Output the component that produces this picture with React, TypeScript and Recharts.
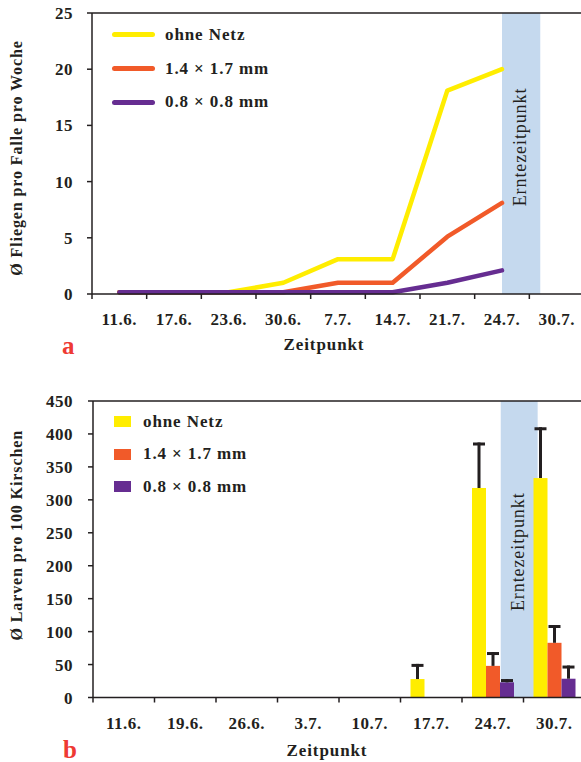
import React from "react";
import {
  Bar,
  BarChart,
  Legend,
  Line,
  LineChart,
  ReferenceArea,
  ReferenceLine,
  XAxis,
  YAxis,
} from "recharts";

const INK = "#231f20";
const SERIF = '"Liberation Serif", "Times New Roman", serif';
const YELLOW = "#ffed00";
const ORANGE = "#f15a29";
const PURPLE = "#662d91";
const BAND = "#c5d9ee";
const RED = "#ee3a33";

const seriesNames = ["ohne Netz", "1.4 × 1.7 mm", "0.8 × 0.8 mm"];

// a: Fliegen pro Falle und Woche
const datesA = ["11.6.", "17.6.", "23.6.", "30.6.", "7.7.", "14.7.", "21.7.", "24.7.", "30.7."];
const fliesOhneNetz = [0.15, 0.15, 0.15, 1, 3.1, 3.1, 18.1, 20, null];
const flies14x17 = [0.15, 0.15, 0.15, 0.15, 1, 1, 5.1, 8.1, null];
const flies08x08 = [0.15, 0.15, 0.15, 0.15, 0.15, 0.15, 1, 2.1, null];
const ticksA = [0, 5, 10, 15, 20, 25];
// harvest window, in category units (category i spans i..i+1)
const harvestA = [7.5, 8.2];

// b: Larven pro 100 Kirschen
const datesB = ["11.6.", "19.6.", "26.6.", "3.7.", "10.7.", "17.7.", "24.7.", "30.7."];
const larvaeOhneNetz = [0, 0, 0, 0, 0, 28, 318, 333];
const larvae14x17 = [0, 0, 0, 0, 0, 0, 48, 83];
const larvae08x08 = [0, 0, 0, 0, 0, 0, 23, 28.5];
const errOhneNetz = [0, 0, 0, 0, 0, 23, 69, 77];
const err14x17 = [0, 0, 0, 0, 0, 0, 21, 27];
const err08x08 = [0, 0, 0, 0, 0, 0, 5, 20];
const ticksB = [0, 50, 100, 150, 200, 250, 300, 350, 400, 450];
const harvestB = [6.63, 7.23];

// each category sits in the middle of its slot on a numeric axis
const flyData = datesA.map((date, i) => ({
  x: i + 0.5,
  date,
  ohne: fliesOhneNetz[i],
  grob: flies14x17[i],
  fein: flies08x08[i],
}));

const larvaeData = datesB.map((date, i) => ({
  x: i + 0.5,
  date,
  ohne: larvaeOhneNetz[i],
  grob: larvae14x17[i],
  fein: larvae08x08[i],
  errOhne: errOhneNetz[i],
  errGrob: err14x17[i],
  errFein: err08x08[i],
}));

const slotsA = datesA.map((_, i) => i).concat(datesA.length);
const slotsB = datesB.map((_, i) => i).concat(datesB.length);

const CHART_W = 600;
const A = { left: 92, right: 16, top: 13, h: 380 };
const B = { left: 93, right: 15, top: 21, h: 382 };
const stepA = (CHART_W - A.left - A.right) / datesA.length;
const stepB = (CHART_W - B.left - B.right) / datesB.length;

const tickFont = {
  fontFamily: SERIF,
  fontWeight: 700,
  fontSize: 17,
  letterSpacing: 0.5,
  fill: INK,
};

/** Tick mark on each slot boundary, date label centred in the slot to its right. */
function SlotTick({ x, y, index, step, labels }: any) {
  return (
    <g>
      <line x1={x} x2={x} y1={y} y2={y + 5} stroke={INK} strokeWidth={1.5} />
      {index < labels.length && (
        <text x={x + step / 2} y={y + 31} textAnchor="middle" {...tickFont}>
          {labels[index]}
        </text>
      )}
    </g>
  );
}

function YTitle({ viewBox, text, dy }: any) {
  const cy = viewBox.y + viewBox.height / 2 + dy;
  return (
    <text
      transform={`translate(22, ${cy}) rotate(-90)`}
      textAnchor="middle"
      fontFamily={SERIF}
      fontWeight={700}
      fontSize={16}
      letterSpacing={0.9}
      fill={INK}
    >
      {text}
    </text>
  );
}

function XTitle({ viewBox, dx, dy, letter, letterDy }: any) {
  return (
    <g>
      <text
        x={viewBox.x + dx}
        y={viewBox.y + dy}
        textAnchor="middle"
        fontFamily={SERIF}
        fontWeight={700}
        fontSize={17}
        letterSpacing={0.9}
        fill={INK}
      >
        Zeitpunkt
      </text>
      <text
        x={viewBox.x - 30}
        y={viewBox.y + letterDy}
        fontFamily={SERIF}
        fontWeight={700}
        fontSize={25}
        fill={RED}
      >
        {letter}
      </text>
    </g>
  );
}

function BandLabel({ viewBox, dy }: any) {
  const cx = viewBox.x + viewBox.width / 2 + 5;
  const cy = viewBox.y + viewBox.height / 2 + dy;
  return (
    <text
      transform={`translate(${cx}, ${cy}) rotate(-90)`}
      textAnchor="middle"
      fontFamily={SERIF}
      fontSize={18}
      letterSpacing={0.9}
      fill={INK}
    >
      Erntezeitpunkt
    </text>
  );
}

function sortByName(payload: any[] = []) {
  return [...payload].sort(
    (a, b) => seriesNames.indexOf(a.value) - seriesNames.indexOf(b.value)
  );
}

const legendText = {
  fontFamily: SERIF,
  fontWeight: 700,
  fontSize: 17,
  letterSpacing: 0.9,
  color: INK,
  whiteSpace: "nowrap" as const,
};

function LineLegend({ payload }: any) {
  return (
    <div>
      {sortByName(payload).map((p) => (
        <div key={p.value} style={{ display: "flex", alignItems: "center", height: 33.8 }}>
          <span
            style={{ width: 43, height: 5, borderRadius: 3, background: p.color, display: "inline-block" }}
          />
          <span style={{ ...legendText, marginLeft: 10 }}>{p.value}</span>
        </div>
      ))}
    </div>
  );
}

function BarLegend({ payload }: any) {
  return (
    <div>
      {sortByName(payload).map((p) => (
        <div key={p.value} style={{ display: "flex", alignItems: "center", height: 32.5 }}>
          <span style={{ width: 17, height: 11, background: p.color, display: "inline-block" }} />
          <span style={{ ...legendText, marginLeft: 12 }}>{p.value}</span>
        </div>
      ))}
    </div>
  );
}

/** Bar with an upper-only error whisker, scaled from the bar's own height. */
function barWithError(valueKey: string, errKey: string) {
  return (props: any) => {
    const { x, y, width, height, fill, payload } = props;
    const v = payload[valueKey];
    const err = payload[errKey];
    if (!v || !height || height <= 0) return <g />;
    const top = y - (err * height) / v;
    const cx = x + width / 2;
    return (
      <g>
        <rect x={x} y={y} width={width} height={height} fill={fill} />
        {err > 0 && (
          <g stroke={INK} strokeWidth={3}>
            <line x1={cx} x2={cx} y1={y} y2={top} />
            <line x1={cx - 6} x2={cx + 6} y1={top + 1.5} y2={top + 1.5} />
          </g>
        )}
      </g>
    );
  };
}

function FliesChart() {
  return (
    <LineChart
      width={CHART_W}
      height={A.h}
      data={flyData}
      margin={{ top: A.top, right: A.right, bottom: 26, left: 0 }}
    >
      <ReferenceArea
        x1={harvestA[0]}
        x2={harvestA[1]}
        y1={0}
        y2={25}
        fill={BAND}
        fillOpacity={1}
        stroke="none"
        label={<BandLabel dy={-6.5} />}
      />
      <XAxis
        dataKey="x"
        type="number"
        domain={[0, datesA.length]}
        ticks={slotsA}
        tickCount={slotsA.length}
        interval={0}
        allowDataOverflow
        height={60}
        tickLine={false}
        tickSize={0}
        tickMargin={0}
        axisLine={{ stroke: INK, strokeWidth: 1.5 }}
        tick={(p: any) => <SlotTick {...p} step={stepA} labels={datesA} />}
        label={<XTitle dx={232} dy={56} letter="a" letterDy={60} />}
      />
      <YAxis
        width={A.left}
        domain={[0, 25]}
        ticks={ticksA}
        interval={0}
        tickSize={5}
        tickMargin={14}
        tickLine={{ stroke: INK, strokeWidth: 1.5 }}
        axisLine={{ stroke: INK, strokeWidth: 1.5 }}
        tick={tickFont}
        label={<YTitle text="Ø Fliegen pro Falle pro Woche" dy={4.5} />}
      />
      <ReferenceLine y={25} stroke={INK} strokeWidth={1.5} />
      <Line
        dataKey="ohne"
        name={seriesNames[0]}
        stroke={YELLOW}
        strokeWidth={4.5}
        strokeLinecap="round"
        strokeLinejoin="round"
        dot={false}
        activeDot={false}
        isAnimationActive={false}
      />
      <Line
        dataKey="grob"
        name={seriesNames[1]}
        stroke={ORANGE}
        strokeWidth={4.5}
        strokeLinecap="round"
        strokeLinejoin="round"
        dot={false}
        activeDot={false}
        isAnimationActive={false}
      />
      <Line
        dataKey="fein"
        name={seriesNames[2]}
        stroke={PURPLE}
        strokeWidth={4.5}
        strokeLinecap="round"
        strokeLinejoin="round"
        dot={false}
        activeDot={false}
        isAnimationActive={false}
      />
      <Legend
        layout="vertical"
        align="center"
        verticalAlign="middle"
        content={<LineLegend />}
        wrapperStyle={{ left: 112, top: 18, width: "auto", height: "auto" }}
      />
    </LineChart>
  );
}

function LarvaeChart() {
  return (
    <BarChart
      width={CHART_W}
      height={B.h}
      data={larvaeData}
      margin={{ top: B.top, right: B.right, bottom: 4.5, left: 0 }}
      barSize={14}
      barGap={0}
    >
      <ReferenceArea
        x1={harvestB[0]}
        x2={harvestB[1]}
        y1={0}
        y2={450}
        fill={BAND}
        fillOpacity={1}
        stroke="none"
        label={<BandLabel dy={2.5} />}
      />
      <XAxis
        dataKey="x"
        type="number"
        domain={[0, datesB.length]}
        ticks={slotsB}
        tickCount={slotsB.length}
        interval={0}
        allowDataOverflow
        height={60}
        tickLine={false}
        tickSize={0}
        tickMargin={0}
        axisLine={{ stroke: INK, strokeWidth: 1.5 }}
        tick={(p: any) => <SlotTick {...p} step={stepB} labels={datesB} />}
        label={<XTitle dx={234} dy={58.5} letter="b" letterDy={60.5} />}
      />
      <YAxis
        width={B.left}
        domain={[0, 450]}
        ticks={ticksB}
        interval={0}
        tickSize={5}
        tickMargin={15}
        tickLine={{ stroke: INK, strokeWidth: 1.5 }}
        axisLine={{ stroke: INK, strokeWidth: 1.5 }}
        tick={tickFont}
        label={<YTitle text="Ø Larven pro 100 Kirschen" dy={-14} />}
      />
      <ReferenceLine y={450} stroke={INK} strokeWidth={1.5} />
      <Bar
        dataKey="ohne"
        name={seriesNames[0]}
        fill={YELLOW}
        shape={barWithError("ohne", "errOhne")}
        isAnimationActive={false}
      />
      <Bar
        dataKey="grob"
        name={seriesNames[1]}
        fill={ORANGE}
        shape={barWithError("grob", "errGrob")}
        isAnimationActive={false}
      />
      <Bar
        dataKey="fein"
        name={seriesNames[2]}
        fill={PURPLE}
        shape={barWithError("fein", "errFein")}
        isAnimationActive={false}
      />
      <Legend
        layout="vertical"
        align="center"
        verticalAlign="middle"
        content={<BarLegend />}
        wrapperStyle={{ left: 114, top: 25.5, width: "auto", height: "auto" }}
      />
    </BarChart>
  );
}

export default function App() {
  return (
    <div
      style={{
        position: "absolute",
        left: 0,
        top: 0,
        width: 581,
        height: 762,
        overflow: "hidden",
        background: "#fff",
      }}
    >
      <div style={{ position: "absolute", left: 0, top: 0 }}>
        <FliesChart />
      </div>
      <div style={{ position: "absolute", left: 0, top: 380 }}>
        <LarvaeChart />
      </div>
    </div>
  );
}
